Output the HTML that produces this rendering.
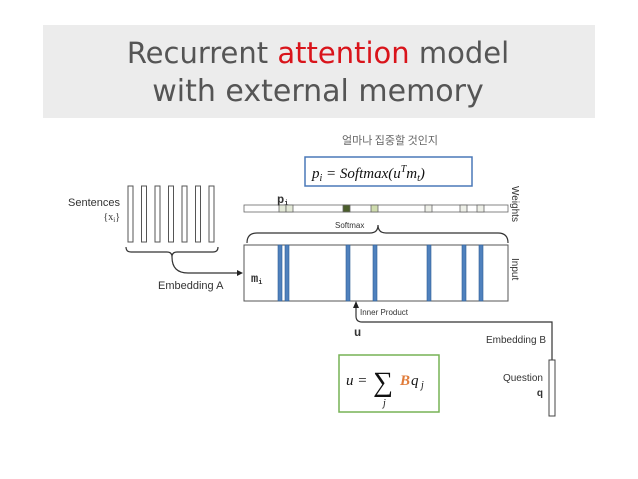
<!DOCTYPE html>
<html><head><meta charset="utf-8"><style>
html,body{margin:0;padding:0;background:#fff;}
body{width:638px;height:479px;overflow:hidden;position:relative;font-family:"Liberation Sans",sans-serif;}
</style></head><body>
<svg width="638" height="479" viewBox="0 0 638 479" xmlns="http://www.w3.org/2000/svg" style="position:absolute;left:0;top:0">
<rect x="43" y="25" width="552" height="93" fill="#ececec"/>
<text x="318" y="63" font-size="29" text-anchor="middle" fill="#555" font-family="DejaVu Sans, sans-serif">Recurrent <tspan fill="#d9141b">attention</tspan> model</text>
<text x="318" y="101" font-size="30" text-anchor="middle" fill="#555" font-family="DejaVu Sans, sans-serif">with external memory</text>

<text x="390" y="144" font-size="11" text-anchor="middle" fill="#666" font-family="Noto Sans CJK KR, sans-serif">얼마나 집중할 것인지</text>
<rect x="305" y="157" width="167" height="29" fill="#fff" stroke="#4a78b8" stroke-width="1.5"/>
<text x="312" y="178" font-size="15" font-style="italic" font-family="Liberation Serif, serif" fill="#111">p<tspan font-size="10" dy="3">i</tspan><tspan dy="-3"> = Softmax(u</tspan><tspan font-size="10" dy="-6">T</tspan><tspan dy="6">m</tspan><tspan font-size="10" dy="3">t</tspan><tspan dy="-3">)</tspan></text>

<g fill="#fff" stroke="#555" stroke-width="1">
<rect x="128" y="186" width="5" height="56"/><rect x="141.5" y="186" width="5" height="56"/><rect x="155" y="186" width="5" height="56"/><rect x="168.5" y="186" width="5" height="56"/><rect x="182" y="186" width="5" height="56"/><rect x="195.5" y="186" width="5" height="56"/><rect x="209" y="186" width="5" height="56"/>
</g>
<path d="M126 247 Q126 252 131 252 L167 252 Q172 252 172 257 Q172 252 177 252 L213 252 Q218 252 218 247" fill="none" stroke="#333" stroke-width="1.2"/>
<path d="M172 257 Q172 273 188 273 L238 273" fill="none" stroke="#333" stroke-width="1.2"/>
<polygon points="243,273 237,270 237,276" fill="#222"/>
<text x="120" y="206" font-size="11" text-anchor="end" fill="#333">Sentences</text>
<text x="120" y="220" font-size="10" text-anchor="end" fill="#333" font-family="Liberation Serif, serif">{x<tspan font-size="7" dy="2">i</tspan><tspan dy="-2">}</tspan></text>
<text x="158" y="289" font-size="11" fill="#333">Embedding A</text>

<rect x="244" y="205" width="264" height="7" fill="#fff" stroke="#666" stroke-width="0.8"/>
<g stroke="#666" stroke-width="0.8">
<rect x="279" y="205" width="7" height="7" fill="#e4ead8"/><rect x="286" y="205" width="7" height="7" fill="#e4ead8"/>
<rect x="343" y="205" width="7" height="7" fill="#4b5e2b"/>
<rect x="371" y="205" width="7" height="7" fill="#cfdcae"/>
<rect x="425" y="205" width="7" height="7" fill="#eef0e8"/>
<rect x="460" y="205" width="7" height="7" fill="#eef0e8"/>
<rect x="477" y="205" width="7" height="7" fill="#eef0e8"/>
</g>
<text x="277" y="203" font-size="12" font-weight="bold" fill="#333" font-family="Liberation Mono, monospace">p<tspan font-size="7" dy="2">i</tspan></text>
<path d="M247 243 Q247 233 257 233 L370 233 Q378 233 378 225 Q378 233 386 233 L498 233 Q508 233 508 243" fill="none" stroke="#333" stroke-width="1.2"/>
<text x="335" y="228" font-size="8" fill="#333">Softmax</text>

<rect x="244" y="245" width="264" height="56" fill="#fff" stroke="#555" stroke-width="1"/>
<g fill="#4f81bd" stroke="#2f5f95" stroke-width="0.6">
<rect x="278" y="245" width="4" height="56"/><rect x="285" y="245" width="4" height="56"/>
<rect x="346" y="245" width="4" height="56"/><rect x="373" y="245" width="4" height="56"/>
<rect x="427" y="245" width="4" height="56"/><rect x="462" y="245" width="4" height="56"/><rect x="479" y="245" width="4" height="56"/>
</g>
<text x="251" y="282" font-size="12" font-weight="bold" fill="#333" font-family="Liberation Mono, monospace">m<tspan font-size="7" dy="2">i</tspan></text>
<text transform="translate(512,186) rotate(90)" font-size="10" fill="#333">Weights</text>
<text transform="translate(512,258) rotate(90)" font-size="10" fill="#333">Input</text>

<path d="M356 307 L356 316 Q356 322 362 322 L552 322 L552 360" fill="none" stroke="#333" stroke-width="1.2"/>
<polygon points="356,301 353,308 359,308" fill="#222"/>
<text x="360" y="315" font-size="8" fill="#333">Inner Product</text>
<text x="354" y="336" font-size="12" font-weight="bold" fill="#333" font-family="Liberation Mono, monospace">u</text>
<text x="546" y="343" font-size="10" text-anchor="end" fill="#333">Embedding B</text>
<rect x="549" y="360" width="6" height="56" fill="#fff" stroke="#444" stroke-width="1"/>
<text x="543" y="381" font-size="10" text-anchor="end" fill="#333">Question</text>
<text x="543" y="396" font-size="10" text-anchor="end" fill="#333" font-weight="bold">q</text>

<rect x="339" y="355" width="100" height="57" fill="#fff" stroke="#77b255" stroke-width="1.5"/>
<text x="346" y="385" font-size="15" font-style="italic" font-family="Liberation Serif, serif" fill="#111">u =</text>
<text x="373" y="391" font-size="28" font-family="Liberation Serif, serif" fill="#111">∑</text>
<text x="383" y="406" font-size="10" font-style="italic" font-family="Liberation Serif, serif" fill="#111">j</text>
<text x="400" y="385" font-size="15" font-style="italic" font-weight="bold" font-family="Liberation Serif, serif" fill="#e07b39">B</text>
<text x="411" y="385" font-size="15" font-style="italic" font-family="Liberation Serif, serif" fill="#111">q<tspan font-size="10" dy="3"> j</tspan></text>
</svg>
</body></html>
